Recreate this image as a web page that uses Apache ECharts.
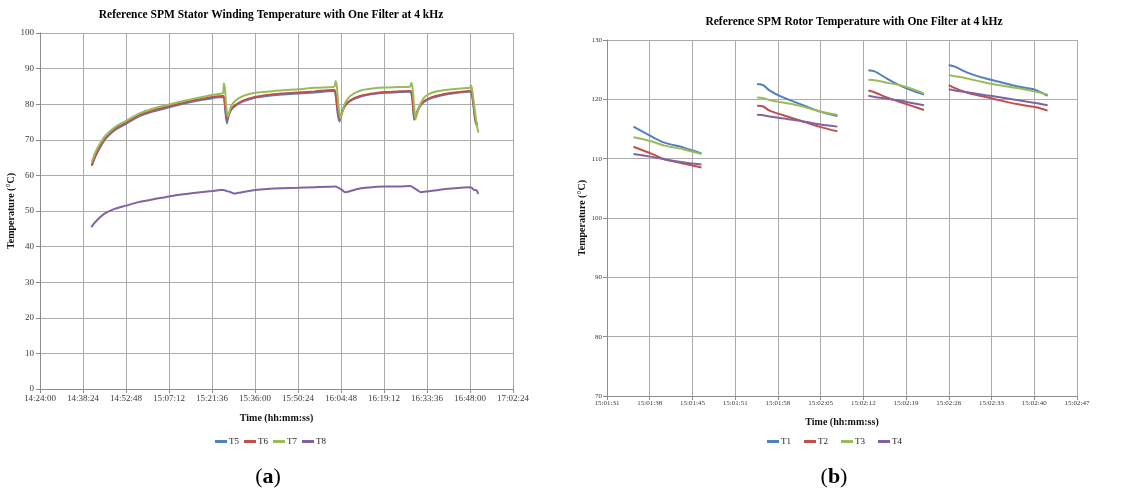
<!DOCTYPE html>
<html>
<head>
<meta charset="utf-8">
<script src="https://cdn.jsdelivr.net/npm/echarts@6/dist/echarts.min.js"></script>
<style>
  html, body { margin: 0; padding: 0; background: #fff; }
  #chart { width: 1132px; height: 490px; }
</style>
</head>
<body>
<div id="chart"></div>
<script>
// ---------- Stator winding sensors (panel a): [clock time, °C] ----------
const statorT5 = [
  ['14:41:20', 62.7], ['14:42:30', 65.2], ['14:44:00', 67.7], ['14:46:00', 70.3], ['14:49:00', 72.7],
  ['14:52:48', 74.5], ['14:57:00', 76.5], ['15:02:00', 78.0], ['15:07:12', 79.1], ['15:12:00', 80.1],
  ['15:17:00', 81.0], ['15:21:36', 81.7], ['15:25:20', 82.0], ['15:25:40', 81.6], ['15:26:05', 78.0],
  ['15:26:35', 74.6], ['15:27:05', 76.5], ['15:28:00', 78.4], ['15:29:30', 79.6], ['15:32:00', 80.8],
  ['15:36:00', 81.8], ['15:40:00', 82.3], ['15:45:00', 82.7], ['15:50:24', 83.0], ['15:56:00', 83.3],
  ['16:02:00', 83.7], ['16:02:40', 83.7], ['16:03:10', 81.5], ['16:03:40', 77.5], ['16:04:15', 75.1],
  ['16:04:50', 76.8], ['16:05:40', 78.8], ['16:07:00', 80.3], ['16:09:00', 81.4], ['16:12:00', 82.3],
  ['16:16:00', 82.9], ['16:19:12', 83.2], ['16:24:00', 83.4], ['16:27:40', 83.5], ['16:28:20', 83.2],
  ['16:28:50', 80.0], ['16:29:20', 75.6], ['16:30:00', 77.0], ['16:31:00', 79.0], ['16:32:30', 80.6],
  ['16:35:00', 81.7], ['16:38:00', 82.4], ['16:42:00', 83.0], ['16:46:00', 83.4], ['16:48:00', 83.5],
  ['16:48:30', 83.3], ['16:49:10', 79.5], ['16:49:40', 75.8], ['16:50:10', 74.2], ['16:50:40', 74.0]
];
const statorT6 = [
  ['14:41:20', 62.9], ['14:42:30', 65.5], ['14:44:00', 68.0], ['14:46:00', 70.6], ['14:49:00', 73.0],
  ['14:52:48', 74.8], ['14:57:00', 76.8], ['15:02:00', 78.3], ['15:07:12', 79.4], ['15:12:00', 80.4],
  ['15:17:00', 81.3], ['15:21:36', 82.0], ['15:25:20', 82.3], ['15:25:45', 81.5], ['15:26:10', 78.0],
  ['15:26:40', 75.5], ['15:27:10', 77.0], ['15:28:00', 78.6], ['15:29:30', 79.8], ['15:32:00', 81.0],
  ['15:36:00', 82.0], ['15:40:00', 82.6], ['15:45:00', 83.0], ['15:50:24', 83.3], ['15:56:00', 83.6],
  ['16:02:00', 84.0], ['16:02:40', 84.0], ['16:03:10', 82.0], ['16:03:40', 78.5], ['16:04:20', 75.6],
  ['16:04:50', 77.0], ['16:05:40', 79.0], ['16:07:00', 80.5], ['16:09:00', 81.6], ['16:12:00', 82.5],
  ['16:16:00', 83.1], ['16:19:12', 83.4], ['16:24:00', 83.6], ['16:27:40', 83.7], ['16:28:20', 83.5],
  ['16:28:50', 80.5], ['16:29:25', 75.8], ['16:30:00', 77.3], ['16:31:00', 79.3], ['16:32:30', 80.8],
  ['16:35:00', 81.9], ['16:38:00', 82.6], ['16:42:00', 83.2], ['16:46:00', 83.6], ['16:48:00', 83.7],
  ['16:48:30', 83.5], ['16:49:10', 80.0], ['16:49:40', 76.5], ['16:50:10', 74.5], ['16:50:40', 74.5]
];
const statorT7 = [
  ['14:41:20', 63.8], ['14:42:30', 66.4], ['14:44:00', 68.8], ['14:46:00', 71.2], ['14:49:00', 73.5],
  ['14:52:48', 75.3], ['14:57:00', 77.3], ['15:02:00', 78.8], ['15:07:12', 79.9], ['15:12:00', 80.9],
  ['15:17:00', 81.8], ['15:21:36', 82.6], ['15:25:00', 83.0], ['15:25:20', 83.2], ['15:25:35', 85.8],
  ['15:25:55', 84.5], ['15:26:20', 80.0], ['15:26:50', 76.6], ['15:27:20', 77.5], ['15:28:00', 79.5],
  ['15:29:30', 81.0], ['15:32:00', 82.3], ['15:36:00', 83.2], ['15:40:00', 83.5], ['15:45:00', 83.9],
  ['15:50:24', 84.2], ['15:56:00', 84.6], ['16:02:00', 84.8], ['16:02:40', 85.0], ['16:03:00', 86.5],
  ['16:03:25', 85.0], ['16:03:55', 80.0], ['16:04:35', 76.0], ['16:05:10', 77.5], ['16:06:00', 80.0],
  ['16:07:30', 82.0], ['16:09:30', 83.2], ['16:12:00', 84.0], ['16:16:00', 84.5], ['16:19:12', 84.7],
  ['16:24:00', 84.8], ['16:27:50', 84.9], ['16:28:20', 86.0], ['16:28:45', 84.5], ['16:29:15', 80.0],
  ['16:29:45', 75.8], ['16:30:20', 77.5], ['16:31:20', 80.0], ['16:33:00', 82.2], ['16:35:30', 83.3],
  ['16:38:00', 83.8], ['16:42:00', 84.2], ['16:46:00', 84.5], ['16:48:00', 84.6], ['16:48:15', 85.3],
  ['16:48:45', 84.0], ['16:49:30', 79.0], ['16:50:20', 74.0], ['16:50:50', 72.0]
];
const statorT8 = [
  ['14:41:10', 45.5], ['14:42:30', 46.9], ['14:44:00', 48.2], ['14:46:00', 49.5], ['14:49:00', 50.6],
  ['14:52:48', 51.5], ['14:57:00', 52.5], ['15:02:00', 53.3], ['15:07:12', 54.1], ['15:12:00', 54.7],
  ['15:17:00', 55.2], ['15:21:36', 55.6], ['15:24:30', 55.9], ['15:25:30', 55.9], ['15:26:30', 55.6],
  ['15:27:30', 55.4], ['15:29:00', 54.9], ['15:30:30', 55.1], ['15:33:00', 55.5], ['15:36:00', 55.9],
  ['15:40:00', 56.2], ['15:45:00', 56.4], ['15:50:24', 56.5], ['15:56:00', 56.7], ['16:03:00', 56.9],
  ['16:04:00', 56.5], ['16:05:00', 56.0], ['16:06:10', 55.3], ['16:07:30', 55.5], ['16:10:00', 56.1],
  ['16:13:00', 56.5], ['16:19:12', 56.9], ['16:24:00', 56.9], ['16:28:00', 57.0], ['16:29:20', 56.4],
  ['16:30:30', 55.8], ['16:31:30', 55.3], ['16:33:36', 55.5], ['16:38:00', 56.0], ['16:42:00', 56.3],
  ['16:46:00', 56.6], ['16:48:00', 56.7], ['16:48:40', 56.5], ['16:49:10', 56.0], ['16:50:10', 55.8],
  ['16:50:45', 54.8]
];

// ---------- Rotor sensors (panel b): four short recordings ----------
const rotorTimes = [
  ['15:01:35', '15:01:38', '15:01:40', '15:01:43', '15:01:46'],
  ['15:01:55', '15:01:56', '15:01:57', '15:01:59', '15:02:02', '15:02:05', '15:02:08'],
  ['15:02:13', '15:02:14', '15:02:16', '15:02:18', '15:02:20', '15:02:22'],
  ['15:02:26', '15:02:27', '15:02:29', '15:02:32', '15:02:34', '15:02:37', '15:02:40', '15:02:42']
];
const rotorT1 = [
  [115.4, 113.7, 112.7, 111.9, 110.9],
  [122.6, 122.4, 121.5, 120.4, 119.2, 118.0, 117.2],
  [124.9, 124.7, 123.5, 122.4, 121.5, 120.8],
  [125.8, 125.5, 124.5, 123.5, 123.0, 122.2, 121.6, 120.6]
];
const rotorT2 = [
  [112.0, 110.8, 109.9, 109.2, 108.5],
  [118.9, 118.8, 118.1, 117.4, 116.4, 115.4, 114.6],
  [121.5, 121.2, 120.3, 119.6, 118.9, 118.2],
  [122.4, 121.9, 121.1, 120.4, 119.9, 119.2, 118.7, 118.1]
];
const rotorT3 = [
  [113.6, 112.9, 112.2, 111.6, 110.8],
  [120.3, 120.2, 119.9, 119.5, 118.9, 118.0, 117.4],
  [123.3, 123.2, 122.8, 122.4, 121.8, 121.0],
  [124.1, 123.9, 123.5, 122.8, 122.4, 121.9, 121.3, 120.8]
];
const rotorT4 = [
  [110.8, 110.3, 109.9, 109.4, 109.0],
  [117.4, 117.3, 117.1, 116.8, 116.4, 115.8, 115.4],
  [120.6, 120.4, 120.1, 119.8, 119.4, 119.0],
  [121.7, 121.5, 121.2, 120.7, 120.4, 119.9, 119.4, 119.0]
];

// Axis ranges (seconds of the day); rotor axis runs in steps of 0.00008 day
const statorAxisStart = 51840;   // 14:24:00
const statorAxisStep = 864;
const statorAxisEnd = 61344;     // 17:02:24
const rotorAxisStart = 54090.72; // 15:01:31
const rotorAxisStep = 6.912;
const rotorTickCount = 11;

const COLORS = ['#4F81BD', '#C0504D', '#9BBB59', '#8064A2'];
const SERIF = '"Liberation Serif", "Times New Roman", serif';

function toSec(hms) {
  const p = hms.split(':').map(Number);
  return p[0] * 3600 + p[1] * 60 + p[2];
}
function pad(n) { return (n < 10 ? '0' : '') + n; }
function fmtClock(sec) {
  const s = Math.round(sec);
  return pad(Math.floor(s / 3600)) + ':' + pad(Math.floor((s % 3600) / 60)) + ':' + pad(s % 60);
}

function statorData(rows) {
  return rows.map(r => [toSec(r[0]), r[1]]);
}
// Rotor values are drawn relative to the axis origin; a '-' entry breaks the line between recordings
function rotorData(segments) {
  const out = [];
  segments.forEach((vals, i) => {
    if (i > 0) out.push([toSec(rotorTimes[i][0]) - rotorAxisStart - 1, '-']);
    vals.forEach((v, j) => out.push([toSec(rotorTimes[i][j]) - rotorAxisStart, v]));
  });
  return out;
}

const gridLine = { show: true, lineStyle: { color: '#ababab', width: 1 } };
const axisLbl = (size) => ({ fontFamily: SERIF, fontSize: size, color: '#3a3a3a' });
const nameStyle = { fontFamily: SERIF, fontSize: 10, fontWeight: 'bold', color: '#111' };

function lineSeries(name, data, color, xi) {
  return {
    name, type: 'line', xAxisIndex: xi, yAxisIndex: xi, data,
    showSymbol: false, symbol: 'none', smooth: 0.25, connectNulls: false,
    lineStyle: { color, width: 2 }, itemStyle: { color },
    emphasis: { disabled: true }
  };
}

const chart = echarts.init(document.getElementById('chart'), null, { renderer: 'canvas' });
chart.setOption({
  animation: false,
  backgroundColor: '#ffffff',
  textStyle: { fontFamily: SERIF },
  grid: [
    { left: 40, top: 33, width: 473, height: 356 },
    { left: 607, top: 40, width: 470, height: 356 }
  ],
  xAxis: [
    {
      type: 'value', gridIndex: 0, min: statorAxisStart, max: statorAxisEnd, interval: statorAxisStep,
      name: 'Time (hh:mm:ss)', nameLocation: 'middle', nameGap: 24, nameTextStyle: nameStyle,
      axisLine: { show: true, lineStyle: { color: '#8c8c8c' } },
      axisTick: { show: true, length: 4, lineStyle: { color: '#8c8c8c' } },
      axisLabel: Object.assign({ margin: 5, showMaxLabel: true, formatter: v => fmtClock(v) }, axisLbl(9)),
      splitLine: gridLine
    },
    {
      type: 'value', gridIndex: 1, min: 0, max: rotorAxisStep * rotorTickCount, interval: rotorAxisStep,
      name: 'Time (hh:mm:ss)', nameLocation: 'middle', nameGap: 21, nameTextStyle: nameStyle,
      axisLine: { show: true, lineStyle: { color: '#8c8c8c' } },
      axisTick: { show: true, length: 4, lineStyle: { color: '#8c8c8c' } },
      axisLabel: Object.assign({ margin: 4, showMaxLabel: true, formatter: v => fmtClock(rotorAxisStart + v) }, axisLbl(7)),
      splitLine: gridLine
    }
  ],
  yAxis: [
    {
      type: 'value', gridIndex: 0, min: 0, max: 100, interval: 10,
      name: 'Temperature (°C)', nameLocation: 'middle', nameGap: 17, nameRotate: 90, nameTextStyle: nameStyle,
      axisLine: { show: true, lineStyle: { color: '#8c8c8c' } },
      axisTick: { show: true, length: 4, lineStyle: { color: '#8c8c8c' } },
      axisLabel: Object.assign({ margin: 6 }, axisLbl(9)),
      splitLine: gridLine
    },
    {
      type: 'value', gridIndex: 1, min: 70, max: 130, interval: 10,
      name: 'Temperature (°C)', nameLocation: 'middle', nameGap: 13, nameRotate: 90, nameTextStyle: nameStyle,
      axisLine: { show: true, lineStyle: { color: '#8c8c8c' } },
      axisTick: { show: true, length: 4, lineStyle: { color: '#8c8c8c' } },
      axisLabel: Object.assign({ margin: 5 }, axisLbl(7)),
      splitLine: gridLine
    }
  ],
  legend: [
    {
      data: ['T5', 'T6', 'T7', 'T8'], left: 210, top: 432, icon: 'rect', itemWidth: 12, itemHeight: 3,
      itemGap: 5, textStyle: { fontFamily: SERIF, fontSize: 9, color: '#222', padding: [0, 0, 0, -3] }
    },
    {
      data: ['T1', 'T2', 'T3', 'T4'], left: 762, top: 432, icon: 'rect', itemWidth: 12, itemHeight: 3,
      itemGap: 13, textStyle: { fontFamily: SERIF, fontSize: 9, color: '#222', padding: [0, 0, 0, -3] }
    }
  ],
  graphic: [
    {
      type: 'text', x: 271, y: 15, style: {
        text: 'Reference SPM Stator Winding Temperature with One Filter at 4 kHz',
        font: 'bold 11.5px ' + SERIF, fill: '#000', textAlign: 'center', textVerticalAlign: 'middle'
      }
    },
    {
      type: 'text', x: 854, y: 22, style: {
        text: 'Reference SPM Rotor Temperature with One Filter at 4 kHz',
        font: 'bold 11.5px ' + SERIF, fill: '#000', textAlign: 'center', textVerticalAlign: 'middle'
      }
    },
    {
      type: 'text', x: 268, y: 477, style: {
        text: '{p|(}{b|a}{p|)}', textAlign: 'center', textVerticalAlign: 'middle',
        rich: {
          p: { font: '22px ' + SERIF, fill: '#000' },
          b: { font: 'bold 22px ' + SERIF, fill: '#000' }
        }
      }
    },
    {
      type: 'text', x: 834, y: 477, style: {
        text: '{p|(}{b|b}{p|)}', textAlign: 'center', textVerticalAlign: 'middle',
        rich: {
          p: { font: '22px ' + SERIF, fill: '#000' },
          b: { font: 'bold 22px ' + SERIF, fill: '#000' }
        }
      }
    }
  ],
  series: [
    lineSeries('T5', statorData(statorT5), COLORS[0], 0),
    lineSeries('T6', statorData(statorT6), COLORS[1], 0),
    lineSeries('T7', statorData(statorT7), COLORS[2], 0),
    lineSeries('T8', statorData(statorT8), COLORS[3], 0),
    lineSeries('T1', rotorData(rotorT1), COLORS[0], 1),
    lineSeries('T2', rotorData(rotorT2), COLORS[1], 1),
    lineSeries('T3', rotorData(rotorT3), COLORS[2], 1),
    lineSeries('T4', rotorData(rotorT4), COLORS[3], 1)
  ]
});
</script>
</body>
</html>
